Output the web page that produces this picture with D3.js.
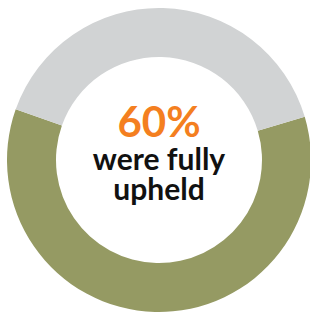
<!DOCTYPE html>
<html>
<head>
<meta charset="UTF-8">
<title>Donut</title>
<style>
  body { margin: 0; background: #fff; }
  svg { display: block; }
</style>
</head>
<body>
<div id="chart"></div>
<script src="https://cdn.jsdelivr.net/npm/d3@7"></script>
<script>
  // data
  let labels = ["Fully upheld", "Other"];
  let values = [60, 40];
  let colors = ["#959a63", "#d1d3d4"];
  let bigText = "60%";
  let subText = ["were fully", "upheld"];

  let width = 310, height = 313;
  let cx = 159, cy = 160;
  let outerR = 152, innerR = 103;

  let svg = d3.select("#chart").append("svg")
      .attr("width", width)
      .attr("height", height);

  let g = svg.append("g")
      .attr("transform", "translate(" + cx + "," + cy + ")");

  let start = 73.5 * Math.PI / 180;
  let pie = d3.pie()
      .sort(null)
      .startAngle(start)
      .endAngle(start + 2 * Math.PI);

  let arc = d3.arc()
      .innerRadius(innerR)
      .outerRadius(outerR);

  g.selectAll("path")
      .data(pie(values))
      .enter()
      .append("path")
      .attr("d", arc)
      .attr("fill", (d, i) => colors[i]);

  g.append("text")
      .attr("x", 0)
      .attr("y", -23)
      .attr("text-anchor", "middle")
      .attr("font-family", "Lato, sans-serif")
      .attr("font-weight", "bold")
      .attr("font-size", 42)
      .attr("fill", "#f47f20")
      .text(bigText);

  g.selectAll(".sub")
      .data(subText)
      .enter()
      .append("text")
      .attr("class", "sub")
      .attr("x", 0)
      .attr("y", (d, i) => 10 + i * 30)
      .attr("text-anchor", "middle")
      .attr("font-family", "Lato, sans-serif")
      .attr("font-weight", "bold")
      .attr("font-size", 30)
      .attr("fill", "#111")
      .text(d => d);
</script>
</body>
</html>
